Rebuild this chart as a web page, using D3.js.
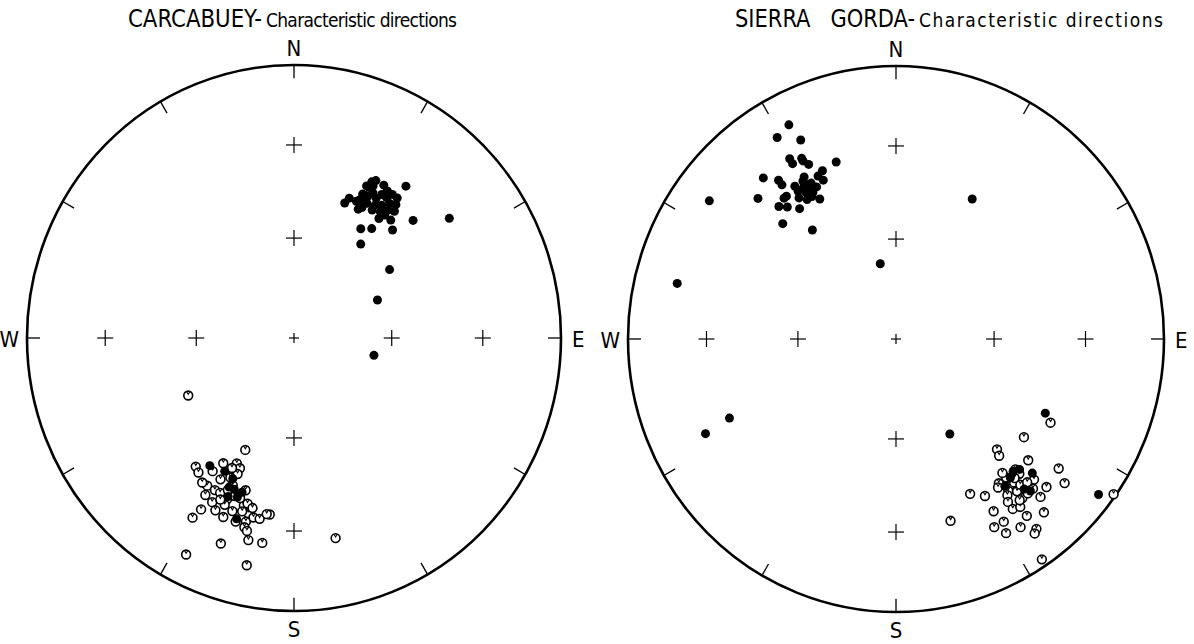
<!DOCTYPE html>
<html>
<head>
<meta charset="utf-8">
<script src="https://cdn.jsdelivr.net/npm/d3@7"></script>
<style>
  body { margin: 0; background: #fff; }
  text { font-family: "Liberation Sans Narrow", "DejaVu Sans Condensed", sans-serif; fill: #000; }
</style>
</head>
<body>
<script>
// Characteristic directions, [declination, inclination] in degrees
// positive inclination = lower hemisphere (filled), negative = upper (open)
let carcabuey = [
  [27,36],[28,35],[31,35],[33,36],[32,38],[29,39],[27,41],[26,43],[29,43],[32,42],
  [34,41],[36,39],[35,36],[32,44],[28,45],[25,44],[35,43],[37,41],[38,38],[27,38],
  [21,46],[22,44],[26,38],[37,31],[37,36],[39,40],[36,45],[40,43],[46,38],[53,28],
  [32,51],[36,49],[43,45],[36,55],[55,54],[66,62],[102,65],
  [28,41],[31,40],[34,38],[26,41],[28,37],[27,46],[37,43],
  [214,43],[208,44],[202,40],[200,38],[203,37],[198,31],[204,40],[199,40],[204,43],
  [242,-53],[204,-53],[218,-40],[216,-39],[210,-46],[205,-48],[203,-47],[203,-45],
  [208,-41],[211,-37],[208,-37],[203,-41],[210,-34],[207,-33],[203,-36],[205,-31],
  [203,-34],[197,-36],[196,-37],[202,-30],[198,-30],[195,-34],[195,-31],[193,-33],
  [191,-33],[188,-35],[189,-35],[210,-25],[195,-29],[194,-28],[193,-25],[200,-21],
  [189,-25],[207,-12],[192,-16],[168,-26],[205,-43],[206,-37],[199,-38],[200,-33],
  [213,-37],[194,-36],[204,-39],[201,-38],[198,-41],[205,-35],[197,-34],[212,-42],
  [206,-46],[209,-29]
];

let sierraGorda = [
  [333,13],[329,15],[334,20],[329,24],[329,26],[332,26],[332,27],[333,29],[341,32],
  [336,33],[334,34],[335,36],[320,24],[323,28],[323,30],[329,33],[330,35],[331,35],
  [326,35],[328,35],[330,36],[330,38],[331,41],[322,34],[321,34],[325,37],[327,39],
  [315,28],[318,35],[320,37],[323,40],[315,40],[322,48],[306,15],[328,37],[332,37],
  [330,32],[329,39],[326,33],
  [348,67],[29,41],[284,17],[244,22],[245,32],[150,57],[116,38],[127,6],
  [134,30],[138,35],[139,28],[143,33],[136,34],[138,26],[140,34],
  [118,-35],[127,-40],[137,-44],[138,-42],[132,-34],[128,-24],[130,-19],[125,-1],
  [137,-35],[135,-28],[144,-35],[145,-34],[142,-32],[140,-32],[137,-33],[143,-31],
  [141,-29],[141,-26],[139,-26],[137,-26],[134,-23],[137,-22],[144,-30],[145,-28],
  [145,-25],[143,-24],[143,-20],[139,-17],[154,-37],[150,-34],[150,-28],[163,-31],
  [149,-23],[152,-23],[150,-19],[146,-18],[143,-14],[144,-13],[146,-3],[141,-35],
  [139,-30],[141,-37],[139,-33],[137,-29],[142,-26]
];

let tickAngles = d3.range(0, 360, 30);
let gridAzimuths = [0, 90, 180, 270];
let gridInclinations = [30, 60];

let nets = [
  { cx: 294, cy: 338, rx: 267, ry: 273, data: carcabuey,
    caps: "CARCABUEY-", capsX: 128, capsW: 134, lower: "Characteristic directions", lowerX: 266, lowerW: 191 },
  { cx: 896, cy: 339, rx: 268, ry: 273, data: sierraGorda,
    caps: "SIERRA   GORDA-", capsX: 735, capsW: 180, lower: "Characteristic directions", lowerX: 919, lowerW: 244 }
];

let svg = d3.select("body")
  .append("svg")
    .attr("width", 1194)
    .attr("height", 644);

const rad = Math.PI / 180;

// Schmidt (equal-area) radius for an inclination, 1 at the primitive
function equalArea(inc) {
  return Math.SQRT2 * Math.sin((90 - Math.abs(inc)) / 2 * rad);
}

function plotNet(net) {
  let x = d3.scaleLinear().domain([-1, 1]).range([net.cx - net.rx, net.cx + net.rx]);
  let y = d3.scaleLinear().domain([-1, 1]).range([net.cy + net.ry, net.cy - net.ry]);
  let g = svg.append("g");

  // title
  g.append("text")
    .attr("x", net.capsX).attr("y", 27)
    .attr("font-size", 24)
    .attr("textLength", net.capsW).attr("lengthAdjust", "spacingAndGlyphs")
    .style("white-space", "pre")
    .text(net.caps);
  g.append("text")
    .attr("x", net.lowerX).attr("y", 27)
    .attr("font-size", 19)
    .attr("textLength", net.lowerW).attr("lengthAdjust", "spacing")
    .text(net.lower);

  // primitive circle
  g.append("ellipse")
    .attr("cx", x(0)).attr("cy", y(0))
    .attr("rx", x(1) - x(0)).attr("ry", y(-1) - y(0))
    .attr("fill", "none").attr("stroke", "#000").attr("stroke-width", 2.6);

  // 30 degree ticks
  let inner = 1 - 13 / net.rx;
  g.selectAll(".tick")
    .data(tickAngles).enter().append("line")
    .attr("x1", (d) => x(Math.sin(d * rad)))
    .attr("y1", (d) => y(Math.cos(d * rad)))
    .attr("x2", (d) => x(inner * Math.sin(d * rad)))
    .attr("y2", (d) => y(inner * Math.cos(d * rad)))
    .attr("stroke", "#000").attr("stroke-width", 1.3);

  // inclination crosses along the axes
  let crosses = [];
  gridAzimuths.forEach((az) => {
    gridInclinations.forEach((inc) => crosses.push({ az: az, inc: inc, s: 8 }));
  });
  crosses.push({ az: 0, inc: 90, s: 5 });
  let cg = g.selectAll(".cross")
    .data(crosses).enter().append("g")
    .attr("transform", (d) => {
      let r = equalArea(d.inc);
      return "translate(" + x(r * Math.sin(d.az * rad)) + "," + y(r * Math.cos(d.az * rad)) + ")";
    });
  cg.append("line").attr("x1", (d) => -d.s).attr("x2", (d) => d.s)
    .attr("stroke", "#000").attr("stroke-width", 1.2);
  cg.append("line").attr("y1", (d) => -d.s).attr("y2", (d) => d.s)
    .attr("stroke", "#000").attr("stroke-width", 1.2);

  // compass letters
  let lab = [
    { t: "N", x: x(0), y: y(1) - 9, a: "middle" },
    { t: "E", x: x(1) + 11, y: y(0) + 9, a: "start" },
    { t: "S", x: x(0), y: y(-1) + 26, a: "middle" },
    { t: "W", x: x(-1) - 8, y: y(0) + 9, a: "end" }
  ];
  g.selectAll(".lab")
    .data(lab).enter().append("text")
    .attr("x", (d) => d.x).attr("y", (d) => d.y)
    .attr("text-anchor", (d) => d.a)
    .attr("font-size", 22)
    .text((d) => d.t);

  // directions
  let pts = net.data.map((d) => {
    let r = equalArea(d[1]);
    return { px: x(r * Math.sin(d[0] * rad)), py: y(r * Math.cos(d[0] * rad)), down: d[1] >= 0 };
  });

  let up = g.selectAll(".up")
    .data(pts.filter((p) => !p.down)).enter().append("g")
    .attr("transform", (d) => "translate(" + d.px + "," + d.py + ")");
  up.append("circle").attr("r", 4.4)
    .attr("fill", "#fff").attr("stroke", "#000").attr("stroke-width", 1.6);
  up.append("path").attr("d", "M-1.6,-3.8L0,-1.2L1.6,-3.8")
    .attr("fill", "none").attr("stroke", "#000").attr("stroke-width", 1.1);

  g.selectAll(".down")
    .data(pts.filter((p) => p.down)).enter().append("circle")
    .attr("cx", (d) => d.px).attr("cy", (d) => d.py)
    .attr("r", 4.5).attr("fill", "#000");
}

nets.forEach(plotNet);
</script>
</body>
</html>
